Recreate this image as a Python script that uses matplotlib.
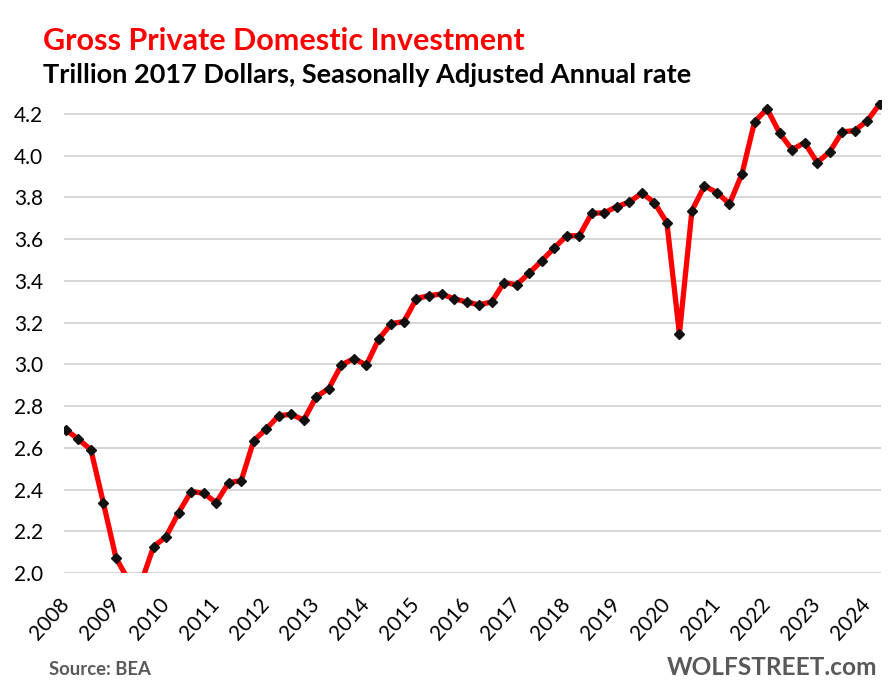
import matplotlib
matplotlib.use("Agg")
import matplotlib.pyplot as plt

# Real gross private domestic investment, trillion 2017 dollars, quarterly 2008Q1-2024Q2
years = list(range(2008, 2025))
gpdi = [
    2.686, 2.641, 2.590, 2.334,   # 2008
    2.072, 1.965, 1.952, 2.126,   # 2009
    2.174, 2.289, 2.390, 2.382,   # 2010
    2.337, 2.433, 2.442, 2.634,   # 2011
    2.690, 2.754, 2.760, 2.733,   # 2012
    2.845, 2.884, 2.997, 3.027,   # 2013
    2.997, 3.122, 3.195, 3.205,   # 2014
    3.315, 3.329, 3.337, 3.314,   # 2015
    3.299, 3.285, 3.299, 3.392,   # 2016
    3.381, 3.437, 3.496, 3.558,   # 2017
    3.616, 3.616, 3.724, 3.726,   # 2018
    3.756, 3.777, 3.821, 3.775,   # 2019
    3.679, 3.146, 3.736, 3.855,   # 2020
    3.823, 3.769, 3.913, 4.162,   # 2021
    4.224, 4.109, 4.028, 4.063,   # 2022
    3.967, 4.018, 4.114, 4.120,   # 2023
    4.167, 4.248,                 # 2024
]
quarters = list(range(len(gpdi)))
y_ticks = [2.0, 2.2, 2.4, 2.6, 2.8, 3.0, 3.2, 3.4, 3.6, 3.8, 4.0, 4.2]

plt.rcParams["font.family"] = ["Lato", "DejaVu Sans"]

fig = plt.figure(figsize=(8.88, 6.94), dpi=100)
ax = fig.add_axes([0.0721, 0.1744, 0.9200, 0.6816])

ax.plot(
    quarters,
    gpdi,
    color="#ff0000",
    linewidth=3.8,
    marker="D",
    markersize=4.6,
    markerfacecolor="#111111",
    markeredgecolor="#111111",
    zorder=3,
)

ax.set_xlim(-0.15, 65.1)
ax.set_ylim(2.0, 4.267)

ax.set_yticks(y_ticks)
ax.set_yticklabels([f"{v:.1f}" for v in y_ticks])
ax.set_xticks(quarters[::4])
ax.set_xticklabels([str(y) for y in years])

ax.grid(axis="y", color="#cccccc", linewidth=1.1)
ax.set_axisbelow(True)

for side in ["top", "right", "bottom", "left"]:
    ax.spines[side].set_visible(False)

ax.tick_params(axis="both", length=0, labelsize=15, colors="black")
ax.tick_params(axis="y", pad=15)
ax.tick_params(axis="x", pad=20)

plt.setp(
    ax.get_xticklabels(),
    rotation=48,
    ha="right",
    va="center",
    rotation_mode="anchor",
)

fig.text(
    0.048,
    0.928,
    "Gross Private Domestic Investment",
    color="#ff0000",
    fontsize=22,
    fontweight="bold",
)

fig.text(
    0.048,
    0.880,
    "Trillion 2017 Dollars, Seasonally Adjusted Annual rate",
    color="black",
    fontsize=19.5,
    fontweight="bold",
)

fig.text(
    0.055,
    0.027,
    "Source: BEA",
    color="#595959",
    fontsize=13.3,
    fontweight="bold",
)

fig.text(
    0.751,
    0.027,
    "WOLFSTREET.com",
    color="#595959",
    fontsize=17.6,
    fontweight="bold",
)

fig.savefig("out.png", dpi=100)
plt.close(fig)
